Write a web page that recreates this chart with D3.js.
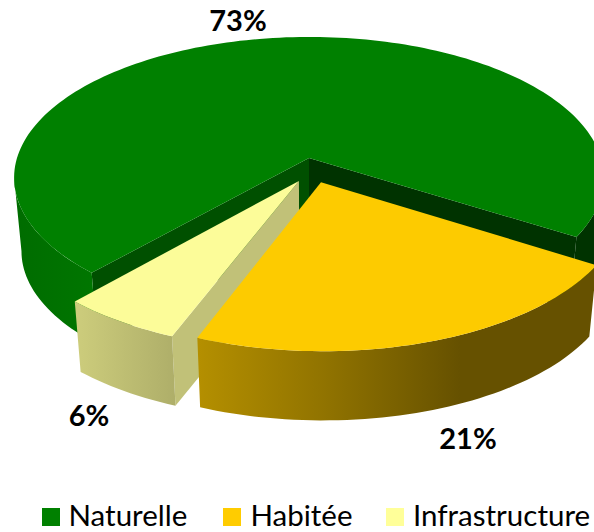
<!DOCTYPE html>
<html>
<head>
<meta charset="utf-8">
<script src="https://cdn.jsdelivr.net/npm/d3@7"></script>
<style>
  html, body { margin: 0; padding: 0; background: #fff; }
  svg { display: block; }
  text { font-family: Lato, "Open Sans", sans-serif; fill: #000; }
</style>
</head>
<body>
<div id="chart"></div>
<script>
const categories = ["Naturelle", "Habitée", "Infrastructure"];
const shares = [72.28, 22.03, 5.69];
const shareLabels = ["73%", "21%", "6%"];
const topColors = ["#008000", "#fdcb00", "#fcfc99"];
const legendColors = ["#008000", "#ffcc00", "#ffff99"];

const width = 594,
  height = 532;

// perspective of the tilted disc, fitted on the picture
const originX = 309,
  originY = 158,
  radiusX = 292,
  radiusY = 138,
  persp = 0.14,
  explode = 0.088,
  depth = 74,
  depthScale = 0.975;

const toRad = Math.PI / 180;

function project(px, py, bottom) {
  const w = 1 - persp * py;
  const x = (radiusX * px) / w,
    y = (radiusY * py) / w;
  if (bottom) {
    return [originX + depthScale * x, originY + depthScale * y + depth];
  }
  return [originX + x, originY + y];
}

const svg = d3
  .select("#chart")
  .append("svg")
  .attr("width", width)
  .attr("height", height);

const defs = svg.append("defs");

function addGradient(id, x1, x2, stops) {
  const g = defs
    .append("linearGradient")
    .attr("id", id)
    .attr("gradientUnits", "userSpaceOnUse")
    .attr("x1", x1)
    .attr("x2", x2)
    .attr("y1", 0)
    .attr("y2", 0);
  stops.forEach((s) => {
    g.append("stop").attr("offset", s[0]).attr("stop-color", s[1]);
  });
}

addGradient("wall-green", 14, 95, [
  [0, "#006c00"],
  [1, "#007600"],
]);
addGradient("wall-yellow", 199, 460, [
  [0, "#b48f00"],
  [0.5, "#8f7200"],
  [1, "#665100"],
]);
addGradient("wall-pale", 75, 176, [
  [0, "#cdcd7c"],
  [1, "#aeae69"],
]);

const wallFill = ["url(#wall-green)", "url(#wall-yellow)", "url(#wall-pale)"];
const cutLeft = "#005000",
  cutRight = "#003300",
  cutPale = "#c1c178";

const pie = d3
  .pie()
  .sort(null)
  .startAngle(221.8 * toRad)
  .endAngle(581.8 * toRad);

const arcs = pie(shares);

// d3.pie angles start at 12 o'clock, the disc model at 3 o'clock
const disc = (a) => [Math.cos(a - Math.PI / 2), Math.sin(a - Math.PI / 2)];
const mid = (d) => (d.startAngle + d.endAngle) / 2;

const greenDir = disc(mid(arcs[0]));
const slices = arcs.map((d) => {
  const dir = disc(mid(d));
  return {
    d: d,
    ax: explode * (dir[0] - greenDir[0]),
    ay: explode * (dir[1] - greenDir[1]),
  };
});

const line = d3.line();

function rim(s, a0, a1, bottom) {
  const n = Math.max(2, Math.ceil(Math.abs(a1 - a0) / (toRad * 1.5)));
  return d3.range(n + 1).map((i) => {
    const p = disc(a0 + ((a1 - a0) * i) / n);
    return project(s.ax + p[0], s.ay + p[1], bottom);
  });
}

function drawTop(s, fill) {
  const pts = [project(s.ax, s.ay, false)].concat(
    rim(s, s.d.startAngle, s.d.endAngle, false)
  );
  svg.append("path").attr("d", line(pts) + "Z").attr("fill", fill);
}

function drawOuter(s, a0, a1, fill) {
  const pts = rim(s, a0, a1, false).concat(rim(s, a1, a0, true));
  svg.append("path").attr("d", line(pts) + "Z").attr("fill", fill);
}

function drawCut(s, a, fill) {
  const p = disc(a);
  const pts = [
    project(s.ax, s.ay, false),
    project(s.ax + p[0], s.ay + p[1], false),
    project(s.ax + p[0], s.ay + p[1], true),
    project(s.ax, s.ay, true),
  ];
  svg.append("path").attr("d", line(pts) + "Z").attr("fill", fill);
}

// painter's order: green first, then the pale slice, yellow in front
const green = slices[0],
  habitee = slices[1],
  infra = slices[2];

drawCut(green, green.d.startAngle, cutLeft);
drawCut(green, green.d.endAngle, cutRight);
// outer walls stop at the silhouette tangent, a bit in front of 3 and 9 o'clock
drawOuter(green, green.d.endAngle, 458 * toRad, cutRight);
drawOuter(green, green.d.startAngle, 262 * toRad, wallFill[0]);
drawTop(green, topColors[0]);

drawCut(infra, infra.d.startAngle, cutPale);
drawOuter(infra, infra.d.startAngle, infra.d.endAngle, wallFill[2]);
drawTop(infra, topColors[2]);

drawOuter(habitee, habitee.d.startAngle, habitee.d.endAngle, wallFill[1]);
drawTop(habitee, topColors[1]);

// share labels
const labelPos = [
  [238, 31],
  [89, 426],
  [468, 449],
];
const labelOrder = [0, 2, 1];
labelOrder.forEach((k, i) => {
  svg
    .append("text")
    .attr("x", labelPos[i][0])
    .attr("y", labelPos[i][1])
    .attr("text-anchor", "middle")
    .attr("font-size", 29)
    .attr("font-weight", 700)
    .text(shareLabels[k]);
});

// legend
const legendX = [42, 223, 386];
const legendTextX = [68.5, 250.5, 413];
categories.forEach((c, i) => {
  svg
    .append("rect")
    .attr("x", legendX[i])
    .attr("y", 508)
    .attr("width", 18)
    .attr("height", 18)
    .attr("fill", legendColors[i]);
  svg
    .append("text")
    .attr("x", legendTextX[i])
    .attr("y", 526)
    .attr("font-size", 29.5)
    .text(c);
});
</script>
</body>
</html>
